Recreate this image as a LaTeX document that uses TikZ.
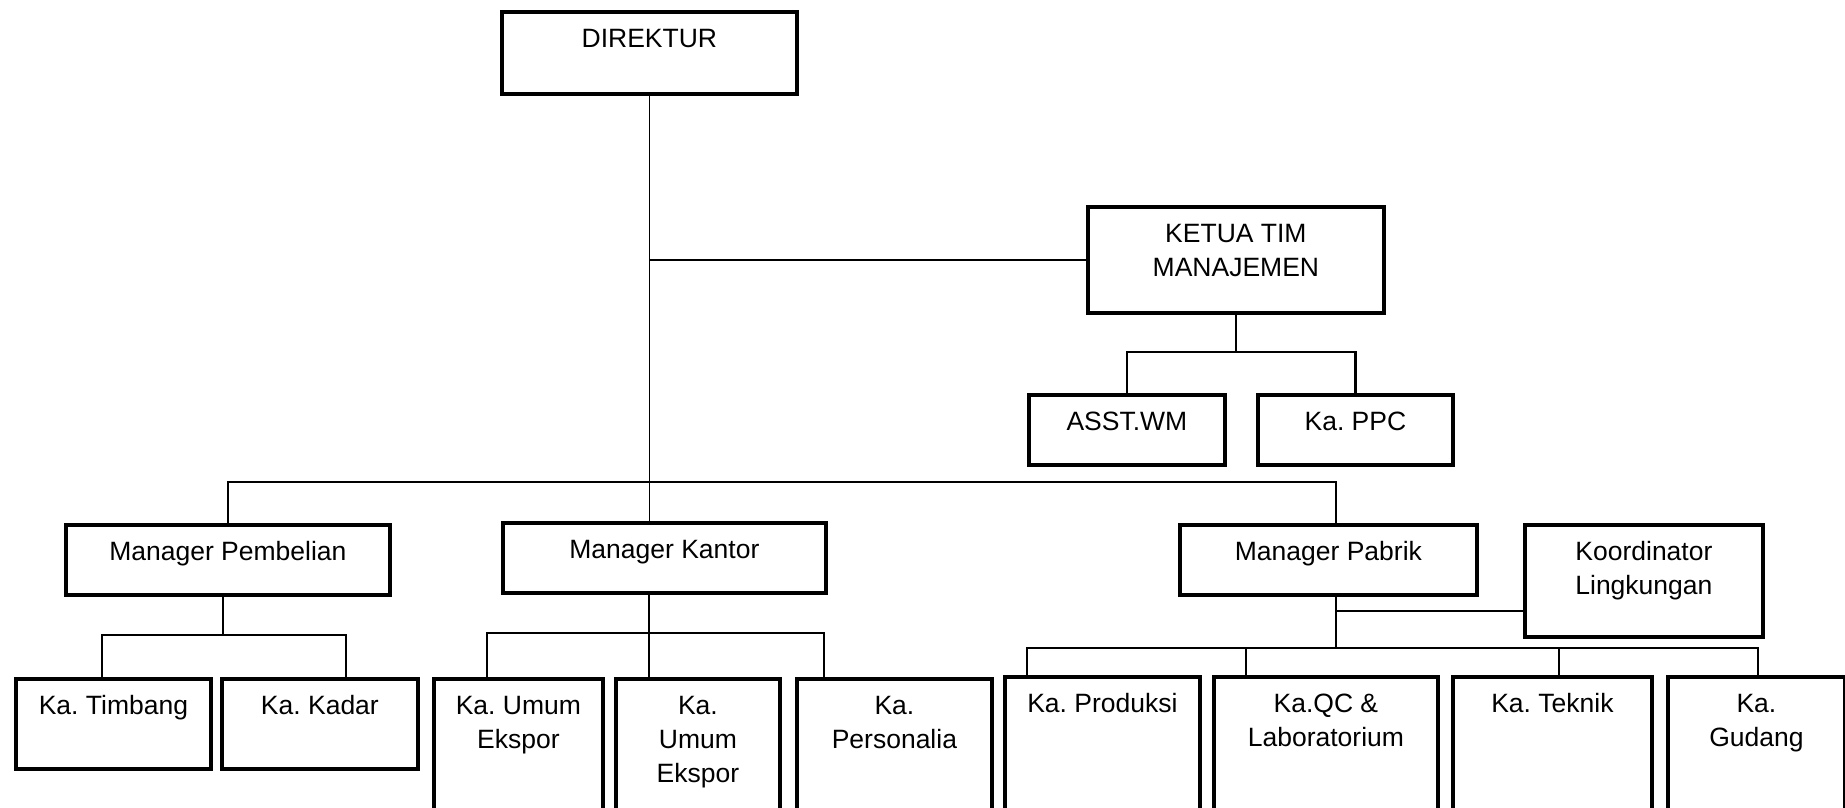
\documentclass[tikz,border=0pt]{standalone}
\usepackage{fontspec}
\setmainfont{Liberation Sans}
\frenchspacing
\newcommand\obox[6]{\node[box] (#1) at (#2,#3) {\parbox[t][\dimexpr#5pt-#3pt\relax][t]{\dimexpr#4pt-#2pt\relax}{\centering\frenchspacing\rule{0pt}{36pt}#6}};}
\begin{document}
\begin{tikzpicture}[x=1pt,y=-1pt,
  box/.style={draw, line width=3.8pt, inner sep=0pt, anchor=north west, font=\fontsize{26.5}{34}\selectfont},
  conn/.style={line width=2.6pt},
  trunk/.style={line width=1.8pt}]
\useasboundingbox (0,0) rectangle (1845,807);
\clip (0,0) rectangle (1845,807);
% boxes
\obox{dir}{500}{10}{795}{92}{DIREKTUR}
\obox{kt}{1086}{205}{1382}{311}{KETUA TIM\\MANAJEMEN}
\obox{asst}{1027}{393}{1223}{463}{ASST.WM}
\obox{ppc}{1256}{393}{1451}{463}{Ka. PPC}
\obox{mpb}{64}{523}{388}{593}{Manager Pembelian}
\obox{mk}{501}{521}{824}{591}{Manager Kantor}
\obox{mpab}{1178}{523}{1475}{593}{Manager Pabrik}
\obox{kl}{1523}{523}{1761}{635}{Koordinator\\Lingkungan}
\obox{tim}{14}{677}{209}{767}{Ka. Timbang}
\obox{kad}{220}{677}{416}{767}{Ka. Kadar}
\obox{ue1}{432}{677}{601}{840}{Ka. Umum\\Ekspor}
\obox{ue2}{614}{677}{778}{840}{Ka.\\Umum\\Ekspor}
\obox{pers}{795}{677}{990}{840}{Ka.\\Personalia}
\obox{prod}{1003}{675}{1198}{840}{Ka. Produksi}
\obox{qc}{1212}{675}{1436}{840}{Ka.QC \&\\Laboratorium}
\obox{tek}{1451}{675}{1650}{840}{Ka. Teknik}
\obox{gud}{1666}{675}{1843}{840}{Ka.\\Gudang}
% helper coordinates
\coordinate (kj) at (0,352);
\coordinate (bus) at (0,482);
\coordinate (xpab) at (1336,0);
\coordinate (pj) at (223,635);
\coordinate (xt) at (102,0);
\coordinate (xk) at (346,0);
\coordinate (kj2) at (649,633);
\coordinate (xa) at (487,0);
\coordinate (xb) at (824,0);
\coordinate (ky) at (0,611);
\coordinate (fb) at (0,648);
\coordinate (xp1) at (1027,0);
\coordinate (xp2) at (1246,0);
\coordinate (xp3) at (1559,0);
\coordinate (xp4) at (1758,0);
% connectors
\draw[trunk] (dir.south) -- (dir.south |- mk.north);
\draw[conn] (dir.south |- kt.west) -- (kt.west);
\draw[conn] (kt.south) -- (kt.south |- kj);
\draw[conn] (asst.north) |- (kt.south |- kj) -| (ppc.north);
\draw[conn] (mpb.north) |- (xpab |- bus) -- (xpab |- mpab.north);
\draw[conn] (mpb.south -| pj) -- (pj);
\draw[conn] (xt |- tim.north) |- (pj) -| (xk |- kad.north);
\draw[conn] (mk.south -| kj2) -- (kj2 |- ue2.north);
\draw[conn] (xa |- ue1.north) |- (kj2) -| (xb |- pers.north);
\draw[conn] (mpab.south -| xpab) -- (xpab |- fb);
\draw[conn] (xpab |- ky) -- (kl.west |- ky);
\draw[conn] (xp1 |- prod.north) -- (xp1 |- fb) -- (xp4 |- fb) -- (xp4 |- gud.north);
\draw[conn] (xp2 |- fb) -- (xp2 |- qc.north);
\draw[conn] (xp3 |- fb) -- (xp3 |- tek.north);
\end{tikzpicture}
\end{document}
